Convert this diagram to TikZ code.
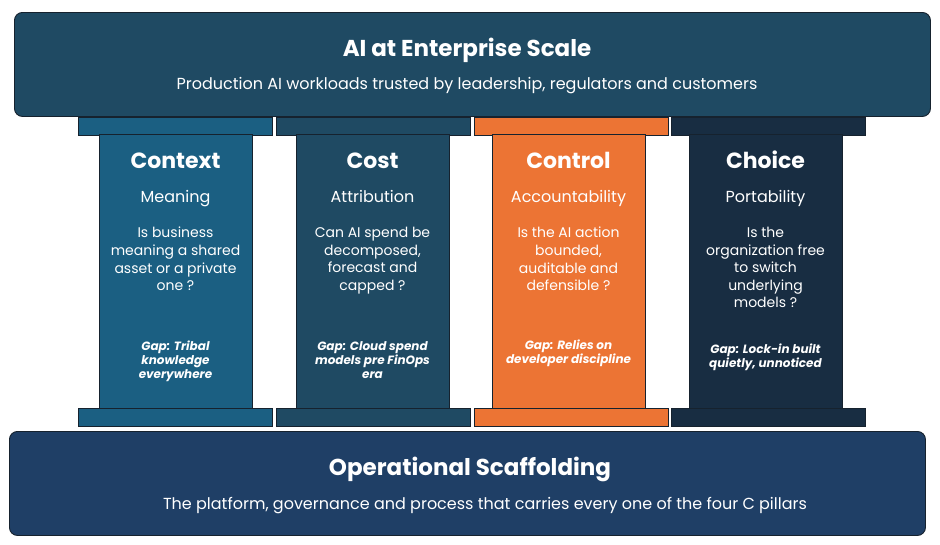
\documentclass[tikz,border=0pt]{standalone}
\usepackage{fontspec}
\setmainfont{Poppins}
\definecolor{topc}{HTML}{1F4A63}
\definecolor{botc}{HTML}{1F3F66}
\definecolor{ctxc}{HTML}{1B5F82}
\definecolor{costc}{HTML}{1F4A63}
\definecolor{ctrlc}{HTML}{EC7434}
\definecolor{chcc}{HTML}{182D42}
\definecolor{edge}{HTML}{16222E}
\tikzset{
  band/.style={draw=edge, line width=0.9pt, rounded corners=8pt, anchor=north west, inner sep=0pt},
  capbox/.style={draw=edge, line width=0.9pt, anchor=north west, inner sep=0pt, minimum height=18pt},
  shaft/.style={draw=edge, line width=0.6pt, anchor=north west, inner sep=0pt, minimum width=153pt, minimum height=274pt},
  bigtitle/.style={text=white, font=\fontsize{23}{27}\selectfont\bfseries, inner sep=0pt, anchor=base},
  bigsub/.style={text=white, font=\fontsize{16}{19}\selectfont, inner sep=0pt, anchor=base},
  ptitle/.style={text=white, font=\fontsize{22}{26}\selectfont\bfseries, inner sep=0pt, anchor=base},
  psub/.style={text=white, font=\fontsize{16}{19}\selectfont, inner sep=0pt, anchor=base},
  pq/.style={text=white, font=\fontsize{14}{17.6}\selectfont, align=center, anchor=north, inner sep=0pt},
  pgap/.style={text=white, font=\fontsize{12}{14}\selectfont\bfseries\itshape, align=center, anchor=north, inner sep=0pt}
}
\begin{document}
\begin{tikzpicture}[x=1pt,y=-1pt]
\useasboundingbox (0,0) rectangle (940,544);
\fill[white] (0,0) rectangle (940,544);

% top band
\node[band, fill=topc, minimum width=916pt, minimum height=104pt] (top) at (14,12) {};
\node[bigtitle] (toptitle) at (467,56) {AI at Enterprise Scale};
\node[bigsub] (topsub) at (467,89.5) {Production AI workloads trusted by leadership, regulators and customers};

% bottom band
\node[band, fill=botc, minimum width=916pt, minimum height=104pt] (bot) at (9,431) {};
\node[bigtitle] (bottitle) at (470,475) {Operational Scaffolding};
\node[bigsub] (botsub) at (485,509.5) {The platform, governance and process that carries every one of the four C pillars};

% capitals and bases
\node[capbox, fill=ctxc,  minimum width=194pt] (cap1) at (78,117) {};
\node[capbox, fill=costc, minimum width=194pt] (cap2) at (276,117) {};
\node[capbox, fill=ctrlc, minimum width=194pt] (cap3) at (474,117) {};
\node[capbox, fill=chcc,  minimum width=194pt] (cap4) at (671,117) {};
\node[capbox, fill=ctxc,  minimum width=194pt] (base1) at (78,408) {};
\node[capbox, fill=costc, minimum width=194pt] (base2) at (276,408) {};
\node[capbox, fill=ctrlc, minimum width=194pt] (base3) at (474,408) {};
\node[capbox, fill=chcc,  minimum width=194pt] (base4) at (671,408) {};

% shafts
\node[shaft, fill=ctxc]  (sh1) at (99,134) {};
\node[shaft, fill=costc] (sh2) at (296,134) {};
\node[shaft, fill=ctrlc] (sh3) at (492,134) {};
\node[shaft, fill=chcc]  (sh4) at (689,134) {};

% Context
\node[ptitle] (t1) at (175.5,168.5) {Context};
\node[psub] (s1) at (175.5,202.5) {Meaning};
\node[pq] (q1) at (175.5,227) {Is business\\meaning a shared\\asset or a private\\one ?};
\node[pgap] (g1) at (175.5,341) {Gap: Tribal\\knowledge\\everywhere};

% Cost
\node[ptitle] (t2) at (372.5,168.5) {Cost};
\node[psub] (s2) at (372.5,202.5) {Attribution};
\node[pq] (q2) at (372.5,227) {Can AI spend be\\decomposed,\\forecast and\\capped ?};
\node[pgap] (g2) at (372.5,341) {Gap: Cloud spend\\models pre FinOps\\era};

% Control
\node[ptitle] (t3) at (568.5,168.5) {Control};
\node[psub] (s3) at (568.5,202.5) {Accountability};
\node[pq] (q3) at (568.5,227) {Is the AI action\\bounded,\\auditable and\\defensible ?};
\node[pgap] (g3) at (568.5,340) {Gap: Relies on\\developer discipline};

% Choice
\node[ptitle] (t4) at (765.5,168.5) {Choice};
\node[psub] (s4) at (765.5,202.5) {Portability};
\node[pq] (q4) at (765.5,227) {Is the\\organization free\\to switch\\underlying\\models ?};
\node[pgap] (g4) at (765.5,344) {Gap: Lock-in built\\quietly, unnoticed};
\end{tikzpicture}
\end{document}
